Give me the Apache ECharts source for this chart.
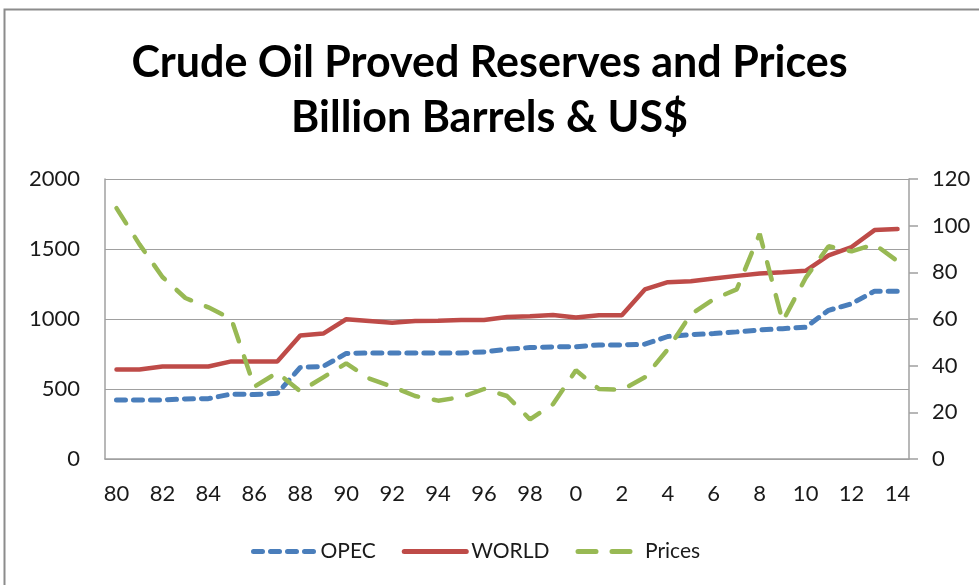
<!DOCTYPE html>
<html>
<head>
<meta charset="utf-8">
<script src="https://cdn.jsdelivr.net/npm/echarts@6/dist/echarts.min.js"></script>
<style>
html,body{margin:0;padding:0;background:#fff;}
#chart{width:979px;height:585px;}
</style>
</head>
<body>
<div id="chart"></div>
<script>
var years = ['80','81','82','83','84','85','86','87','88','89','90','91','92','93','94','95','96','97','98','99','0','1','2','3','4','5','6','7','8','9','10','11','12','13','14'];
var opec = [422,422,422,429,431,464,460,469,654,661,754,758,758,758,758,758,765,784,796,801,801,815,815,820,875,889,896,908,922,931,941,1062,1109,1199,1199];
var world = [640,640,661,661,661,697,697,697,882,896,998,986,974,986,988,993,993,1014,1019,1029,1010,1026,1026,1211,1263,1270,1289,1308,1325,1334,1344,1455,1514,1635,1642];
var prices = [107.5,92,78,69,65,60,31,37,29,35,41,34.5,31,27,25,26.5,30,27,17,23.5,38,30,29.6,35,47,62,68.5,72.7,96.5,59,77.6,91.2,89,92,84.8];
var leftTicks = {min:0, max:2000, interval:500};
var rightTicks = {min:0, max:120, interval:20};

var chart = echarts.init(document.getElementById('chart'), null, {renderer:'canvas'});
var fontFam = 'Lato, "Open Sans", sans-serif';
var axisGray = '#a0a0a0';
chart.setOption({
  animation:false,
  backgroundColor:'#ffffff',
  graphic:[{type:'rect', shape:{x:4.5,y:9.5,width:1000,height:620}, style:{fill:'none', stroke:'#8c8c8c', lineWidth:2}, silent:true}],
  title:{
    text:'Crude Oil Proved Reserves and Prices\nBillion Barrels & US$',
    left:'center', top:31,
    textStyle:{fontFamily:fontFam, fontWeight:'bold', fontSize:43, lineHeight:55, color:'#000'}
  },
  legend:{
    bottom:18, left:246, itemGap:26, itemWidth:62, itemHeight:14,
    itemStyle:{opacity:0},
    lineStyle:{width:5},
    textStyle:{fontFamily:fontFam, fontSize:21, color:'#1a1a1a'},
    data:['OPEC','WORLD','Prices']
  },
  grid:{left:105, right:70, top:179, bottom:126, containLabel:false},
  xAxis:{
    type:'category', data:years, boundaryGap:true,
    axisLine:{show:true, lineStyle:{color:axisGray, width:1.5}},
    axisTick:{show:false},
    axisLabel:{interval:1, margin:24, fontFamily:fontFam, fontSize:22, color:'#1a1a1a'}
  },
  yAxis:[{
    type:'value', min:leftTicks.min, max:leftTicks.max, interval:leftTicks.interval,
    axisLine:{show:true, lineStyle:{color:axisGray, width:1.5}},
    axisTick:{show:false},
    splitLine:{show:true, lineStyle:{color:axisGray, width:1.2}},
    axisLabel:{margin:25, fontFamily:fontFam, fontSize:22, color:'#1a1a1a', formatter:function(v){return String(v);}}
  },{
    type:'value', min:rightTicks.min, max:rightTicks.max, interval:rightTicks.interval, position:'right',
    axisLine:{show:true, lineStyle:{color:axisGray, width:1.5}},
    axisTick:{show:true, inside:false, length:9, lineStyle:{color:axisGray, width:1.5}},
    splitLine:{show:false},
    axisLabel:{margin:23, fontFamily:fontFam, fontSize:22, color:'#1a1a1a', formatter:function(v){return String(v);}}
  }],
  series:[
    {name:'OPEC', type:'line', data:opec, yAxisIndex:0, symbol:'none', itemStyle:{color:'#4a7ebb'},
     lineStyle:{color:'#4a7ebb', width:5, type:[9,8], cap:'round'}},
    {name:'WORLD', type:'line', data:world, yAxisIndex:0, symbol:'none', itemStyle:{color:'#be4b48'},
     lineStyle:{color:'#be4b48', width:4.5, type:'solid', cap:'round'}},
    {name:'Prices', type:'line', data:prices, yAxisIndex:1, symbol:'none', itemStyle:{color:'#98b954'},
     lineStyle:{color:'#98b954', width:4.5, type:[18,16], cap:'round'}}
  ]
});
</script>
</body>
</html>
